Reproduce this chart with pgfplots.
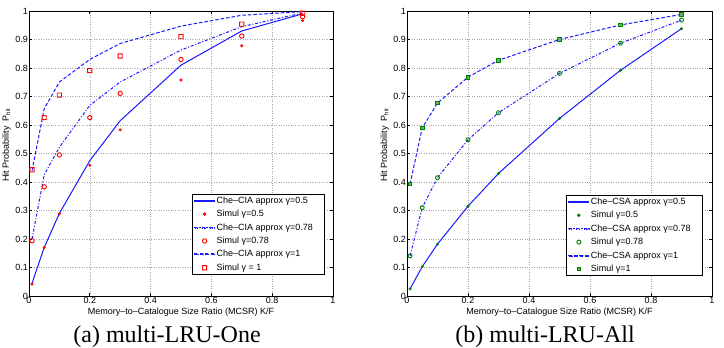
\documentclass[border=0pt]{standalone}
\usepackage{fontspec}
\setmainfont{Liberation Sans}
\newfontfamily\capfont{Liberation Serif}
\usepackage{pgfplots}
\pgfplotsset{compat=1.18}
\definecolor{mblue}{rgb}{0.1,0.1,1}
\definecolor{mgreen}{rgb}{0,0.5,0}
\definecolor{mred}{rgb}{1,0,0}
\pgfdeclareplotmark{osq}{%
  \begin{pgfscope}%
  \pgfsetfillcolor{mred}%
  \pgfpathrectangle{\pgfpoint{-2.55pt}{-2.55pt}}{\pgfpoint{5.1pt}{5.1pt}}%
  \pgfpathrectangle{\pgfpoint{-1.65pt}{-1.65pt}}{\pgfpoint{3.3pt}{3.3pt}}%
  \pgfseteorule\pgfusepath{fill}%
  \end{pgfscope}}
\pgfplotsset{
  mystyle/.style={
    scale only axis,
    width=304pt, height=285pt,
    xmin=0, xmax=1, ymin=0, ymax=1,
    xtick={0,0.2,0.4,0.6,0.8,1},
    xticklabels={0,0.2,0.4,0.6,0.8,1},
    ytick={0,0.1,0.2,0.3,0.4,0.5,0.6,0.7,0.8,0.9,1},
    yticklabels={0,0.1,0.2,0.3,0.4,0.5,0.6,0.7,0.8,0.9,1},
    tick align=inside,
    major tick length=3pt,
    grid=major,
    major grid style={dotted, color=gray!70, line width=0.5pt},
    axis line style={line width=0.9pt},
    tick style={color=black, line width=0.6pt},
    tick label style={font=\fontsize{9}{10}\selectfont},
    yticklabel style={inner sep=0.8pt},
    xticklabel style={inner sep=1.2pt},
    xlabel style={font=\fontsize{9}{10}\selectfont, at={(axis description cs:0.5,0)}, anchor=north, inner sep=0pt, yshift=-12pt},
    ylabel style={font=\fontsize{9}{10}\selectfont, at={(axis description cs:-0.074,0.53)}, anchor=center, inner sep=0pt},
    xlabel={Memory--to--Catalogue Size Ratio (MCSR) K/F},
    ylabel={Hit Probability\ \ P\textsubscript{hit}},
    legend cell align=left,
    legend style={draw=black, line width=0.8pt, font=\fontsize{9}{10}\selectfont,
      inner sep=1.5pt, row sep=3pt,
      nodes={inner sep=1.2pt}},
  },
  ml/.style={legend image code/.code={\path[draw=none] (0pt,0pt) -- (20pt,0pt); \draw plot coordinates {(10pt,0pt)};}},
  lsolid/.style={color=mblue, line width=1pt, solid, no marks,
    legend image code/.code={\fill[mblue] (0pt,-0.5pt) rectangle (20pt,0.5pt);}},
  ldashdot/.style={color=mblue, line width=1pt, no marks, dash pattern=on 3pt off 1.8pt on 1pt off 1.8pt,
    legend image code/.code={\fill[mblue] (0pt,-0.5pt) rectangle (3pt,0.5pt) (4.8pt,-0.5pt) rectangle (5.8pt,0.5pt) (7.6pt,-0.5pt) rectangle (10.6pt,0.5pt) (12.4pt,-0.5pt) rectangle (13.4pt,0.5pt) (15.2pt,-0.5pt) rectangle (18.2pt,0.5pt) (19.6pt,-0.5pt) rectangle (20.4pt,0.5pt);}},
  ldash/.style={color=mblue, line width=1pt, no marks, dash pattern=on 3.5pt off 2pt,
    legend image code/.code={\fill[mblue] (0pt,-0.5pt) rectangle (3.5pt,0.5pt) (5.5pt,-0.5pt) rectangle (9pt,0.5pt) (11pt,-0.5pt) rectangle (14.5pt,0.5pt) (16.5pt,-0.5pt) rectangle (20pt,0.5pt);}},
}
\begin{document}
\begin{tikzpicture}
\useasboundingbox (0,0) rectangle (724pt,348pt);
\begin{axis}[mystyle, at={(29pt,52pt)}, anchor=south west,
  legend style={at={(0.974,0.074)}, anchor=south east}]
\addplot[lsolid] coordinates {(0.01,0.045)(0.05,0.17)(0.1,0.29)(0.2,0.475)(0.3,0.615)(0.5,0.81)(0.7,0.93)(0.9,0.99)};
\addlegendentry{Che--CIA approx γ=0.5}
\addplot[color=mred, only marks, mark=*, mark size=1.3pt, mark options={solid}, ml] coordinates {(0.01,0.042)(0.05,0.17)(0.1,0.288)(0.2,0.459)(0.3,0.583)(0.5,0.758)(0.7,0.878)(0.9,0.966)};
\addlegendentry{Simul γ=0.5}
\addplot[ldashdot] coordinates {(0.01,0.20)(0.05,0.425)(0.1,0.522)(0.2,0.669)(0.3,0.751)(0.5,0.863)(0.7,0.945)(0.9,0.993)};
\addlegendentry{Che--CIA approx γ=0.78\hspace*{9pt}}
\addplot[color=mred, only marks, mark=o, mark size=2.2pt, line width=0.9pt, mark options={solid}, ml] coordinates {(0.01,0.194)(0.05,0.383)(0.1,0.495)(0.2,0.626)(0.3,0.711)(0.5,0.83)(0.7,0.912)(0.9,0.98)};
\addlegendentry{Simul γ=0.78}
\addplot[ldash] coordinates {(0.01,0.44)(0.05,0.657)(0.1,0.751)(0.2,0.83)(0.3,0.886)(0.5,0.947)(0.7,0.985)(0.9,0.998)};
\addlegendentry{Che--CIA approx γ=1}
\addplot[color=mred, only marks, mark=osq, mark options={solid, fill=mred}, ml] coordinates {(0.01,0.443)(0.05,0.626)(0.1,0.705)(0.2,0.791)(0.3,0.842)(0.5,0.91)(0.7,0.954)(0.9,0.992)};
\addlegendentry{Simul γ = 1}
\end{axis}
\begin{axis}[mystyle, at={(407pt,52pt)}, anchor=south west, width=305pt,
  ylabel style={at={(axis description cs:-0.073,0.53)}},
  legend style={at={(0.970,0.070)}, anchor=south east}]
\addplot[lsolid] coordinates {(0.01,0.025)(0.05,0.103)(0.1,0.182)(0.2,0.315)(0.3,0.43)(0.5,0.623)(0.7,0.792)(0.9,0.938)};
\addlegendentry{Che--CSA approx γ=0.5}
\addplot[color=mgreen, only marks, mark=*, mark size=1.3pt, mark options={solid}, ml] coordinates {(0.01,0.025)(0.05,0.103)(0.1,0.182)(0.2,0.315)(0.3,0.43)(0.5,0.623)(0.7,0.792)(0.9,0.938)};
\addlegendentry{Simul γ=0.5}
\addplot[ldashdot] coordinates {(0.01,0.141)(0.05,0.31)(0.1,0.415)(0.2,0.548)(0.3,0.643)(0.5,0.781)(0.7,0.887)(0.9,0.968)};
\addlegendentry{Che--CSA approx γ=0.78\hspace*{9pt}}
\addplot[color=mgreen, only marks, mark=o, mark size=2pt, line width=0.9pt, mark options={solid}, ml] coordinates {(0.01,0.141)(0.05,0.31)(0.1,0.415)(0.2,0.548)(0.3,0.643)(0.5,0.781)(0.7,0.887)(0.9,0.968)};
\addlegendentry{Simul γ=0.78}
\addplot[ldash] coordinates {(0.01,0.393)(0.05,0.59)(0.1,0.677)(0.2,0.768)(0.3,0.827)(0.5,0.90)(0.7,0.951)(0.9,0.988)};
\addlegendentry{Che--CSA approx γ=1}
\addplot[color=mgreen, only marks, mark=square*, mark size=1.8pt, line width=0.8pt, mark options={solid, fill=mgreen!60}, ml] coordinates {(0.01,0.393)(0.05,0.59)(0.1,0.677)(0.2,0.768)(0.3,0.827)(0.5,0.90)(0.7,0.951)(0.9,0.988)};
\addlegendentry{Simul γ=1}
\end{axis}
\node[anchor=base, font=\capfont\fontsize{24}{28}\selectfont] at (167pt,5.5pt) {(a) multi-LRU-One};
\node[anchor=base, font=\capfont\fontsize{24}{28}\selectfont] at (545pt,5.5pt) {(b) multi-LRU-All};
\end{tikzpicture}
\end{document}
